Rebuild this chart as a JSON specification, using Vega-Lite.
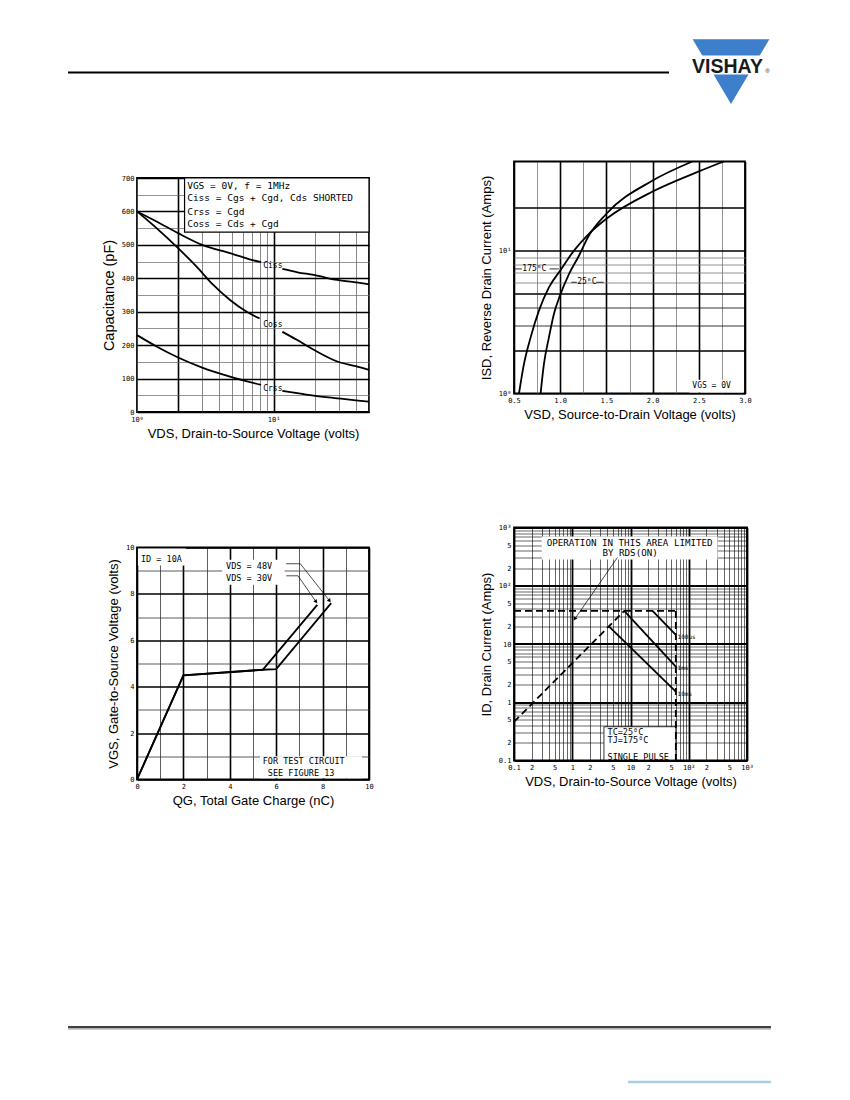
{
  "$schema": "https://vega.github.io/schema/vega-lite/v6.json",
  "background": "white",
  "padding": {"left": 67, "top": 38, "right": 5, "bottom": 0},
  "spacing": 21.5,
  "datasets": {
    "hdrRule": [{"px": 67, "px2": 668, "py": 72.5}],
    "hdrLogo": [{"px": 730, "py": 71.65}],
    "hdrBand": [{"px": 684, "px2": 778, "py": 55.5, "py2": 74.5}],
    "hdrText": [{"px": 726.5, "py": 72.7, "label": "VISHAY"}],
    "hdrReg": [{"px": 766.5, "py": 72.5, "label": "®"}],
    "ftrRule": [{"px": 67, "px2": 770, "py": 1027}],
    "ftrShade": [{"px": 67, "px2": 770, "py": 1028.8}],
    "ftrBlue": [{"px": 627, "px2": 770, "py": 1082}],
    "tlCap": [
      {"vds": 1, "pF": 600, "seg": "Ciss-a"}, {"vds": 1.39, "pF": 570, "seg": "Ciss-a"}, {"vds": 2, "pF": 535, "seg": "Ciss-a"},
      {"vds": 3, "pF": 500, "seg": "Ciss-a"}, {"vds": 4.8, "pF": 475, "seg": "Ciss-a"}, {"vds": 6.5, "pF": 458, "seg": "Ciss-a"},
      {"vds": 8.1, "pF": 448, "seg": "Ciss-a"},
      {"vds": 11.6, "pF": 428, "seg": "Ciss-b"}, {"vds": 15, "pF": 418, "seg": "Ciss-b"}, {"vds": 19.7, "pF": 410, "seg": "Ciss-b"},
      {"vds": 29.3, "pF": 395, "seg": "Ciss-b"}, {"vds": 40, "pF": 388, "seg": "Ciss-b"}, {"vds": 50, "pF": 382, "seg": "Ciss-b"},
      {"vds": 1, "pF": 600, "seg": "Coss-a"}, {"vds": 1.39, "pF": 550, "seg": "Coss-a"}, {"vds": 2, "pF": 490, "seg": "Coss-a"},
      {"vds": 2.73, "pF": 435, "seg": "Coss-a"}, {"vds": 3.62, "pF": 380, "seg": "Coss-a"}, {"vds": 4.8, "pF": 335, "seg": "Coss-a"},
      {"vds": 6.36, "pF": 300, "seg": "Coss-a"}, {"vds": 7.9, "pF": 280, "seg": "Coss-a"},
      {"vds": 11.6, "pF": 240, "seg": "Coss-b"}, {"vds": 14.8, "pF": 216, "seg": "Coss-b"}, {"vds": 19.7, "pF": 186, "seg": "Coss-b"},
      {"vds": 29.3, "pF": 151, "seg": "Coss-b"}, {"vds": 40, "pF": 137, "seg": "Coss-b"}, {"vds": 50, "pF": 126, "seg": "Coss-b"},
      {"vds": 1, "pF": 230, "seg": "Crss-a"}, {"vds": 1.39, "pF": 196, "seg": "Crss-a"}, {"vds": 2, "pF": 163, "seg": "Crss-a"},
      {"vds": 3, "pF": 133, "seg": "Crss-a"}, {"vds": 4.8, "pF": 106, "seg": "Crss-a"}, {"vds": 8.1, "pF": 81, "seg": "Crss-a"},
      {"vds": 11.6, "pF": 63, "seg": "Crss-b"}, {"vds": 19.7, "pF": 49, "seg": "Crss-b"}, {"vds": 29.3, "pF": 41, "seg": "Crss-b"},
      {"vds": 40, "pF": 35, "seg": "Crss-b"}, {"vds": 50, "pF": 31, "seg": "Crss-b"}
    ],
    "tlBox": [{"vds": 2.23, "vds2": 50, "pF": 538, "pF2": 700}],
    "tlLegend": [
      {"vds": 2.33, "pF": 677, "label": "VGS = 0V,  f = 1MHz"},
      {"vds": 2.33, "pF": 639, "label": "Ciss = Cgs + Cgd,  Cds SHORTED"},
      {"vds": 2.33, "pF": 599, "label": "Crss = Cgd"},
      {"vds": 2.33, "pF": 561, "label": "Coss = Cds + Cgd"}
    ],
    "tlLabels": [
      {"vds": 8.4, "pF": 438, "label": "Ciss"},
      {"vds": 8.4, "pF": 259, "label": "Coss"},
      {"vds": 8.4, "pF": 69, "label": "Crss"}
    ],
    "trIsd": [
      {"vsd": 0.554, "isd": 1, "temp": "175"}, {"vsd": 0.608, "isd": 1.61, "temp": "175"}, {"vsd": 0.68, "isd": 2.47, "temp": "175"},
      {"vsd": 0.77, "isd": 3.8, "temp": "175"}, {"vsd": 0.878, "isd": 5.53, "temp": "175"}, {"vsd": 1.0, "isd": 7.24, "temp": "175"},
      {"vsd": 1.149, "isd": 10, "temp": "175"}, {"vsd": 1.3, "isd": 12.9, "temp": "175"}, {"vsd": 1.5, "isd": 16.7, "temp": "175"},
      {"vsd": 2.0, "isd": 25.9, "temp": "175"}, {"vsd": 2.5, "isd": 35.8, "temp": "175"}, {"vsd": 2.77, "isd": 42, "temp": "175"},
      {"vsd": 0.788, "isd": 1, "temp": "25"}, {"vsd": 0.824, "isd": 1.61, "temp": "25"}, {"vsd": 0.878, "isd": 2.47, "temp": "25"},
      {"vsd": 0.932, "isd": 3.6, "temp": "25"}, {"vsd": 0.997, "isd": 4.84, "temp": "25"}, {"vsd": 1.095, "isd": 6.85, "temp": "25"},
      {"vsd": 1.203, "isd": 9.2, "temp": "25"}, {"vsd": 1.3, "isd": 12.4, "temp": "25"}, {"vsd": 1.5, "isd": 18.1, "temp": "25"},
      {"vsd": 2.0, "isd": 30.9, "temp": "25"}, {"vsd": 2.43, "isd": 42, "temp": "25"}
    ],
    "trBox": [{"vsd": 2.4, "vsd2": 2.985, "isd": 1.015, "isd2": 1.25}],
    "trLeaders": [
      {"vsd": 0.51, "vsd2": 0.585, "isd": 7.44},
      {"vsd": 0.885, "vsd2": 0.985, "isd": 7.44},
      {"vsd": 1.12, "vsd2": 1.18, "isd": 6.0},
      {"vsd": 1.39, "vsd2": 1.47, "isd": 6.0}
    ],
    "trText": [
      {"vsd": 0.59, "isd": 7.44, "label": "175⁰C"},
      {"vsd": 1.184, "isd": 6.0, "label": "25⁰C"},
      {"vsd": 2.43, "isd": 1.13, "label": "VGS = 0V"}
    ],
    "blQg": [
      {"qg": 0, "vgs": 0, "vds": "48V"}, {"qg": 2.0, "vgs": 4.49, "vds": "48V"}, {"qg": 5.42, "vgs": 4.73, "vds": "48V"},
      {"qg": 6.0, "vgs": 4.76, "vds": "48V"}, {"qg": 8.37, "vgs": 7.6, "vds": "48V"},
      {"qg": 0, "vgs": 0, "vds": "30V"}, {"qg": 2.0, "vgs": 4.49, "vds": "30V"}, {"qg": 5.42, "vgs": 4.73, "vds": "30V"},
      {"qg": 7.77, "vgs": 7.53, "vds": "30V"}
    ],
    "blBox": [
      {"qg": 0.04, "qg2": 2.1, "vgs": 9.22, "vgs2": 9.96},
      {"qg": 3.67, "qg2": 6.36, "vgs": 8.39, "vgs2": 9.47},
      {"qg": 5.3, "qg2": 9.7, "vgs": 0.05, "vgs2": 1.0}
    ],
    "blLeaders": [
      {"qg": 6.43, "vgs": 9.3, "id": "48"}, {"qg": 7.04, "vgs": 9.3, "id": "48"}, {"qg": 8.3, "vgs": 7.7, "id": "48"},
      {"qg": 6.43, "vgs": 8.78, "id": "30"}, {"qg": 6.94, "vgs": 8.78, "id": "30"}, {"qg": 7.72, "vgs": 7.66, "id": "30"}
    ],
    "blHeads": [{"qg": 8.3, "vgs": 7.7}, {"qg": 7.72, "vgs": 7.66}],
    "blText": [
      {"qg": 0.17, "vgs": 9.5, "label": "ID = 10A"},
      {"qg": 3.84, "vgs": 9.21, "label": "VDS =  48V"},
      {"qg": 3.84, "vgs": 8.68, "label": "VDS =  30V"},
      {"qg": 5.42, "vgs": 0.79, "label": "FOR TEST CIRCUIT"},
      {"qg": 5.64, "vgs": 0.26, "label": "SEE FIGURE 13"}
    ],
    "brBox": [{"vds": 0.3, "vds2": 313, "id": 283, "id2": 700}],
    "brBoxTc": [{"vds": 3.5, "vds2": 60, "id": 0.102, "id2": 0.38}],
    "brLimit": [
      {"vds": 0.1, "id": 0.46, "curve": "rds"}, {"vds": 7.8, "id": 37, "curve": "rds"},
      {"vds": 0.1, "id": 37, "curve": "ilim"}, {"vds": 60, "id": 37, "curve": "ilim"},
      {"vds": 60, "id": 37, "curve": "vlim"}, {"vds": 60, "id": 0.1, "curve": "vlim"}
    ],
    "brPulse": [
      {"vds": 23.9, "id": 37, "curve": "100us"}, {"vds": 60, "id": 14.3, "curve": "100us"},
      {"vds": 7.8, "id": 37, "curve": "1ms"}, {"vds": 60, "id": 4.08, "curve": "1ms"},
      {"vds": 4.3, "id": 19.8, "curve": "10ms"}, {"vds": 60, "id": 1.52, "curve": "10ms"}
    ],
    "brArrow": [{"vds": 5.98, "id": 306}, {"vds": 1.075, "id": 25.8}],
    "brHead": [{"vds": 1.1, "id": 27}],
    "brNote": [
      {"vds": 0.364, "id": 532, "label": "OPERATION IN THIS AREA LIMITED"},
      {"vds": 3.3, "id": 358, "label": "BY RDS(ON)"}
    ],
    "brCond": [
      {"vds": 4.03, "id": 0.314, "label": "TC=25⁰C"},
      {"vds": 4.03, "id": 0.226, "label": "TJ=175⁰C"},
      {"vds": 4.03, "id": 0.117, "label": "SINGLE PULSE"}
    ],
    "brPulseText": [
      {"vds": 64.3, "id": 13.4, "label": "100us"},
      {"vds": 64.3, "id": 3.83, "label": "1ms"},
      {"vds": 64.3, "id": 1.39, "label": "10ms"}
    ]
  },
  "vconcat": [
    {
      "width": 634,
      "height": 97,
      "view": {"stroke": null},
      "encoding": {
        "x": {"field": "px", "type": "quantitative", "scale": {"domain": [136, 770], "nice": false, "zero": false}, "axis": null},
        "y": {"field": "py", "type": "quantitative", "scale": {"domain": [38, 135], "nice": false, "zero": false, "reverse": true}, "axis": null}
      },
      "layer": [
        {"data": {"name": "hdrRule"}, "mark": {"type": "rule", "color": "#000", "strokeWidth": 2}, "encoding": {"x2": {"field": "px2"}}},
        {"data": {"name": "hdrLogo"}, "mark": {"type": "point", "shape": "M-1,-0.8435L1,-0.8435L0,0.8435Z", "filled": true, "color": "#3d7fca", "opacity": 1, "size": 5883, "strokeWidth": 0}},
        {"data": {"name": "hdrBand"}, "mark": {"type": "rect", "color": "white"}, "encoding": {"x2": {"field": "px2"}, "y2": {"field": "py2"}}},
        {"data": {"name": "hdrText"}, "mark": {"type": "text", "font": "Liberation Sans", "fontWeight": "bold", "fontSize": 19.5, "align": "center", "baseline": "alphabetic", "color": "#1a1a1a"}, "encoding": {"text": {"field": "label"}}},
        {"data": {"name": "hdrReg"}, "mark": {"type": "text", "font": "Liberation Sans", "fontSize": 6, "align": "center", "baseline": "alphabetic", "color": "#1a1a1a"}, "encoding": {"text": {"field": "label"}}}
      ]
    },
    {
      "spacing": 104,
      "hconcat": [
        {
          "spacing": 101,
          "vconcat": [
            {
              "spacing": 10.5,
              "vconcat": [
                {
                  "width": 232,
                  "height": 1,
                  "view": {"stroke": null},
                  "data": {"values": [{}]},
                  "mark": {"type": "point", "size": 0, "opacity": 0, "strokeWidth": 0}
                },
                {
                  "width": 232,
                  "height": 234,
                  "encoding": {
                    "x": {
                      "field": "vds", "type": "quantitative", "title": "VDS, Drain-to-Source Voltage (volts)",
                      "scale": {"type": "log", "domain": [1, 50], "nice": false},
                      "axis": {
                        "values": [1, 2, 3, 4, 5, 6, 7, 8, 9, 10, 20, 30, 40, 50],
                        "labelExpr": "datum.value == 1 ? '10⁰' : datum.value == 10 ? '10¹' : ''",
                        "gridWidth": {"condition": {"test": "datum.value == 2 || datum.value == 10", "value": 1.6}, "value": 0.7},
                        "gridColor": {"condition": {"test": "datum.value == 2 || datum.value == 10", "value": "#000"}, "value": "#555"}
                      }
                    },
                    "y": {
                      "field": "pF", "type": "quantitative", "title": "Capacitance (pF)",
                      "scale": {"domain": [0, 700], "nice": false},
                      "axis": {
                        "values": [0, 50, 100, 150, 200, 250, 300, 350, 400, 450, 500, 550, 600, 650, 700],
                        "labelExpr": "datum.value % 100 == 0 ? datum.label : ''",
                        "titleFontSize": 14.5,
                        "gridWidth": {"condition": {"test": "datum.value % 100 == 0", "value": 1.6}, "value": 0.7},
                        "gridColor": {"condition": {"test": "datum.value % 100 == 0", "value": "#000"}, "value": "#666"}
                      }
                    }
                  },
                  "layer": [
                    {"data": {"name": "tlCap"}, "mark": {"type": "line", "color": "#000", "strokeWidth": 1.8, "interpolate": "monotone"}, "encoding": {"detail": {"field": "seg"}}},
                    {"data": {"name": "tlBox"}, "mark": {"type": "rect", "fill": "white", "stroke": "#000", "strokeWidth": 1.2}, "encoding": {"x2": {"field": "vds2"}, "y2": {"field": "pF2"}}},
                    {"data": {"name": "tlLegend"}, "mark": {"type": "text", "align": "left", "baseline": "middle", "font": "DejaVu Sans Mono", "fontSize": 9.5, "color": "#000"}, "encoding": {"text": {"field": "label"}}},
                    {"data": {"name": "tlLabels"}, "mark": {"type": "text", "align": "left", "baseline": "middle", "font": "DejaVu Sans Mono", "fontSize": 8, "color": "#000"}, "encoding": {"text": {"field": "label"}}}
                  ]
                }
              ]
            },
            {
              "width": 232,
              "height": 232,
              "encoding": {
                "x": {
                  "field": "qg", "type": "quantitative", "title": "QG, Total Gate Charge (nC)",
                  "scale": {"domain": [0, 10], "nice": false},
                  "axis": {
                    "values": [0, 1, 2, 3, 4, 5, 6, 7, 8, 9, 10],
                    "labelExpr": "datum.value % 2 == 0 ? datum.label : ''",
                    "gridWidth": {"condition": {"test": "datum.value % 2 == 0", "value": 1.6}, "value": 0.8},
                    "gridColor": {"condition": {"test": "datum.value % 2 == 0", "value": "#000"}, "value": "#333"}
                  }
                },
                "y": {
                  "field": "vgs", "type": "quantitative", "title": "VGS, Gate-to-Source Voltage (volts)",
                  "scale": {"domain": [0, 10], "nice": false},
                  "axis": {
                    "values": [0, 1, 2, 3, 4, 5, 6, 7, 8, 9, 10],
                    "labelExpr": "datum.value % 2 == 0 ? datum.label : ''",
                    "gridWidth": {"condition": {"test": "datum.value % 2 == 0", "value": 1.6}, "value": 0.8},
                    "gridColor": {"condition": {"test": "datum.value % 2 == 0", "value": "#000"}, "value": "#333"}
                  }
                }
              },
              "layer": [
                {"data": {"name": "blBox"}, "mark": {"type": "rect", "fill": "white"}, "encoding": {"x2": {"field": "qg2"}, "y2": {"field": "vgs2"}}},
                {"data": {"name": "blQg"}, "mark": {"type": "line", "color": "#000", "strokeWidth": 1.8}, "encoding": {"detail": {"field": "vds"}}},
                {"data": {"name": "blLeaders"}, "mark": {"type": "line", "color": "#000", "strokeWidth": 0.7}, "encoding": {"detail": {"field": "id"}}},
                {"data": {"name": "blHeads"}, "mark": {"type": "point", "shape": "triangle-up", "filled": true, "color": "#000", "opacity": 1, "size": 18, "angle": 143}},
                {"data": {"name": "blText"}, "mark": {"type": "text", "align": "left", "baseline": "middle", "font": "DejaVu Sans Mono", "fontSize": 8.5, "color": "#000"}, "encoding": {"text": {"field": "label"}}}
              ]
            }
          ]
        },
        {
          "spacing": 100,
          "vconcat": [
            {
              "width": 231,
              "height": 232,
              "encoding": {
                "x": {
                  "field": "vsd", "type": "quantitative", "title": "VSD, Source-to-Drain Voltage (volts)",
                  "scale": {"domain": [0.5, 3], "nice": false, "zero": false},
                  "axis": {
                    "values": [0.5, 0.75, 1, 1.25, 1.5, 1.75, 2, 2.25, 2.5, 2.75, 3],
                    "labelExpr": "(datum.value * 2) % 1 == 0 ? format(datum.value, '.1f') : ''",
                    "gridWidth": {"condition": {"test": "(datum.value * 2) % 1 == 0", "value": 1.6}, "value": 0.7},
                    "gridColor": {"condition": {"test": "(datum.value * 2) % 1 == 0", "value": "#000"}, "value": "#666"}
                  }
                },
                "y": {
                  "field": "isd", "type": "quantitative", "title": "ISD, Reverse Drain Current (Amps)",
                  "scale": {"type": "log", "domain": [1, 42], "nice": false},
                  "axis": {
                    "values": [1, 2, 3, 4, 5, 6, 7, 8, 9, 10, 20],
                    "labelExpr": "datum.value == 1 ? '10⁰' : datum.value == 10 ? '10¹' : ''",
                    "gridWidth": {"condition": {"test": "datum.value == 2 || datum.value == 5 || datum.value == 10 || datum.value == 20", "value": 1.6}, "value": 0.8},
                    "gridColor": {"condition": {"test": "datum.value >= 6 && datum.value <= 9", "value": "#777"}, "value": "#000"}
                  }
                }
              },
              "layer": [
                {"data": {"name": "trBox"}, "mark": {"type": "rect", "fill": "white"}, "encoding": {"x2": {"field": "vsd2"}, "y2": {"field": "isd2"}}},
                {"data": {"name": "trIsd"}, "mark": {"type": "line", "color": "#000", "strokeWidth": 1.8, "interpolate": "monotone"}, "encoding": {"detail": {"field": "temp"}}},
                {"data": {"name": "trLeaders"}, "mark": {"type": "rule", "color": "#000", "strokeWidth": 0.8}, "encoding": {"x2": {"field": "vsd2"}}},
                {"data": {"name": "trText"}, "mark": {"type": "text", "align": "left", "baseline": "middle", "font": "DejaVu Sans Mono", "fontSize": 8, "color": "#000"}, "encoding": {"text": {"field": "label"}}}
              ]
            },
            {
              "width": 233,
              "height": 233,
              "encoding": {
                "x": {
                  "field": "vds", "type": "quantitative", "title": "VDS, Drain-to-Source Voltage (volts)",
                  "scale": {"type": "log", "domain": [0.1, 1000], "nice": false},
                  "axis": {
                    "values": [0.1, 0.2, 0.3, 0.4, 0.5, 0.6, 0.7, 0.8, 0.9, 1, 2, 3, 4, 5, 6, 7, 8, 9, 10, 20, 30, 40, 50, 60, 70, 80, 90, 100, 200, 300, 400, 500, 600, 700, 800, 900, 1000],
                    "labelExpr": "datum.value == 0.1 ? '0.1' : datum.value == 1 ? '1' : datum.value == 10 ? '10' : datum.value == 100 ? '10²' : datum.value == 1000 ? '10³' : (datum.value == 0.2 || datum.value == 2 || datum.value == 20 || datum.value == 200) ? '2' : (datum.value == 0.5 || datum.value == 5 || datum.value == 50 || datum.value == 500) ? '5' : ''",
                    "gridWidth": {"condition": {"test": "datum.value == 0.1 || datum.value == 1 || datum.value == 10 || datum.value == 100 || datum.value == 1000", "value": 1.8}, "value": 0.6},
                    "gridColor": "#000"
                  }
                },
                "y": {
                  "field": "id", "type": "quantitative", "title": "ID, Drain Current (Amps)",
                  "scale": {"type": "log", "domain": [0.1, 1000], "nice": false},
                  "axis": {
                    "values": [0.1, 0.2, 0.3, 0.4, 0.5, 0.6, 0.7, 0.8, 0.9, 1, 2, 3, 4, 5, 6, 7, 8, 9, 10, 20, 30, 40, 50, 60, 70, 80, 90, 100, 200, 300, 400, 500, 600, 700, 800, 900, 1000],
                    "labelExpr": "datum.value == 0.1 ? '0.1' : datum.value == 1 ? '1' : datum.value == 10 ? '10' : datum.value == 100 ? '10²' : datum.value == 1000 ? '10³' : (datum.value == 0.2 || datum.value == 2 || datum.value == 20 || datum.value == 200) ? '2' : (datum.value == 0.5 || datum.value == 5 || datum.value == 50 || datum.value == 500) ? '5' : ''",
                    "gridWidth": {"condition": {"test": "datum.value == 0.1 || datum.value == 1 || datum.value == 10 || datum.value == 100 || datum.value == 1000", "value": 1.8}, "value": 0.6},
                    "gridColor": "#000"
                  }
                }
              },
              "layer": [
                {"data": {"name": "brBox"}, "mark": {"type": "rect", "fill": "white"}, "encoding": {"x2": {"field": "vds2"}, "y2": {"field": "id2"}}},
                {"data": {"name": "brBoxTc"}, "mark": {"type": "rect", "fill": "white", "stroke": "#000", "strokeWidth": 0.8}, "encoding": {"x2": {"field": "vds2"}, "y2": {"field": "id2"}}},
                {"data": {"name": "brLimit"}, "mark": {"type": "line", "color": "#000", "strokeWidth": 1.8, "strokeDash": [7, 4]}, "encoding": {"detail": {"field": "curve"}}},
                {"data": {"name": "brPulse"}, "mark": {"type": "line", "color": "#000", "strokeWidth": 1.8}, "encoding": {"detail": {"field": "curve"}}},
                {"data": {"name": "brArrow"}, "mark": {"type": "line", "color": "#000", "strokeWidth": 0.7}},
                {"data": {"name": "brHead"}, "mark": {"type": "point", "shape": "triangle-up", "filled": true, "color": "#000", "opacity": 1, "size": 18, "angle": 214}},
                {"data": {"name": "brNote"}, "mark": {"type": "text", "align": "left", "baseline": "middle", "font": "DejaVu Sans Mono", "fontSize": 9.2, "color": "#000"}, "encoding": {"text": {"field": "label"}}},
                {"data": {"name": "brCond"}, "mark": {"type": "text", "align": "left", "baseline": "middle", "font": "DejaVu Sans Mono", "fontSize": 8.5, "color": "#000"}, "encoding": {"text": {"field": "label"}}},
                {"data": {"name": "brPulseText"}, "mark": {"type": "text", "align": "left", "baseline": "middle", "font": "DejaVu Sans Mono", "fontSize": 6, "color": "#000"}, "encoding": {"text": {"field": "label"}}}
              ]
            }
          ]
        }
      ]
    },
    {
      "width": 634,
      "height": 266,
      "view": {"stroke": null},
      "encoding": {
        "x": {"field": "px", "type": "quantitative", "scale": {"domain": [136, 770], "nice": false, "zero": false}, "axis": null},
        "x2": {"field": "px2"},
        "y": {"field": "py", "type": "quantitative", "scale": {"domain": [830, 1096], "nice": false, "zero": false, "reverse": true}, "axis": null}
      },
      "layer": [
        {"data": {"name": "ftrShade"}, "mark": {"type": "rule", "color": "#999", "strokeWidth": 1.2}},
        {"data": {"name": "ftrRule"}, "mark": {"type": "rule", "color": "#000", "strokeWidth": 1.6}},
        {"data": {"name": "ftrBlue"}, "mark": {"type": "rule", "color": "#a8cfe8", "strokeWidth": 2.5}}
      ]
    }
  ],
  "config": {
    "view": {"stroke": "#000", "strokeWidth": 1.8},
    "axis": {
      "domain": false,
      "ticks": false,
      "grid": true,
      "labelFont": "DejaVu Sans Mono",
      "labelFontSize": 7,
      "labelColor": "#000",
      "labelPadding": 3,
      "labelOverlap": false,
      "labelFlush": false,
      "labelBound": false,
      "titleFont": "Liberation Sans",
      "titleFontSize": 13,
      "titleFontWeight": "normal",
      "titleColor": "#000",
      "titlePadding": 5
    },
    "title": {"font": "Liberation Sans"}
  }
}
